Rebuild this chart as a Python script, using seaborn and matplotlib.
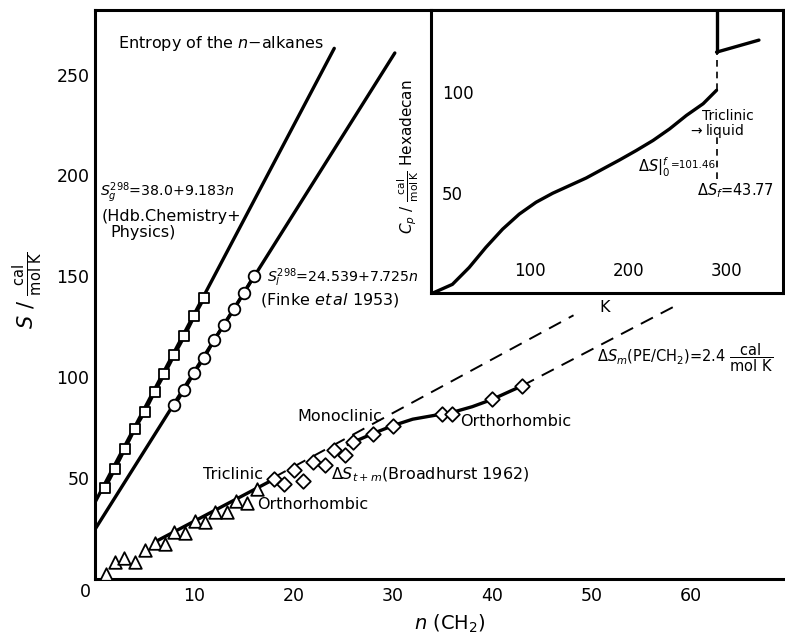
import matplotlib
matplotlib.use("Agg")
import matplotlib.pyplot as plt
import seaborn as sns
import pandas as pd

# ---------------- data ----------------
gas_n = [1, 2, 3, 4, 5, 6, 7, 8, 9, 10, 11]
gas_S = [45.0, 54.5, 64.4, 74.3, 82.8, 92.7, 101.6, 111.2, 120.3, 130.3, 139.3]
gas_fit_n = [0, 24.1]
gas_fit_S = [38.0, 263.0]

liq_n = [8, 9, 10, 11, 12, 13, 14, 15, 16]
liq_S = [86.1, 93.9, 102.3, 109.7, 118.5, 126.1, 133.7, 141.9, 150.1]
liq_fit_n = [0, 30.2]
liq_fit_S = [24.6, 260.7]

tri_n = [1.1, 2.0, 2.95, 4.0, 5.0, 6.0, 7.05, 8.0, 9.1, 10.1, 11.1, 12.1, 13.3, 14.2, 15.3, 16.3]
tri_S = [2.4, 8.6, 10.5, 8.2, 14.4, 17.7, 17.2, 23.1, 22.6, 28.7, 28.4, 33.3, 33.0, 38.6, 37.8, 44.4]

dia_n = [18, 19, 20, 21, 22, 23.2, 24.1, 25.2, 26, 28, 30, 35, 36, 40, 43]
dia_S = [49.5, 47.0, 54.1, 48.8, 58.1, 56.4, 63.7, 61.4, 67.8, 72.1, 76.0, 82.0, 82.0, 89.0, 95.7]

trend1_n = [6.2, 18.0]
trend1_S = [18.8, 49.4]
trend2_n = [25.5, 26, 28, 30, 32, 35, 36, 38, 40, 43]
trend2_S = [66.6, 67.8, 72.1, 76.0, 79.2, 81.8, 82.6, 85.4, 89.0, 95.7]

mono_dash_n = [18.0, 48.2]
mono_dash_S = [50.3, 130.7]
pe_dash_n = [43.0, 58.9]
pe_dash_S = [95.7, 136.5]

main_xticks = [10, 20, 30, 40, 50, 60]
main_yticks = [50, 100, 150, 200, 250]

# inset: Cp of hexadecane
cp_T = [2, 21.7, 38.7, 55.6, 72.6, 89.5, 106.5, 123.4, 140.4, 157.4, 174.3,
        191.3, 208.2, 225.2, 242.1, 259.1, 276.0, 289.6]
cp_val = [0.0, 4.3, 12.7, 22.7, 31.8, 39.3, 45.2, 49.7, 53.5, 57.3, 61.8,
          66.3, 71.0, 76.0, 81.8, 88.5, 94.3, 101.0]
cp_liq_T = [289.6, 332.6]
cp_liq_val = [120.0, 126.0]
cp_peak_T = [289.6, 289.6]
cp_peak_val = [120.0, 141.0]
cp_dash_upper_T = [289.6, 289.6]
cp_dash_upper_val = [101.0, 120.0]
cp_dash_lower_T = [289.6, 289.6]
cp_dash_lower_val = [57.0, 79.0]
inset_xticks = [100, 200, 300]
inset_yticks = [50, 100]

# ---------------- style ----------------
sns.set_theme(style="white")
plt.rcParams["font.family"] = ["DejaVu Sans"]
plt.rcParams["mathtext.fontset"] = "dejavusans"
plt.rcParams["text.color"] = "black"
plt.rcParams["xtick.color"] = "black"
plt.rcParams["ytick.color"] = "black"

W, H = 785, 635
fig = plt.figure(figsize=(W / 100, H / 100), dpi=100)
fig.patch.set_facecolor("white")


def fx(px):
    return px / W


def fy(py):
    return 1 - py / H


ax = fig.add_axes([fx(95), fy(579), fx(783) - fx(95), fy(10) - fy(579)])
ax.set_facecolor("white")
ax.set_xlim(0, 69.3)
ax.set_ylim(0, 282)

LW = 2.4
DASH = (0, (7, 4.5))


def line(axis, x, y, **kw):
    sns.lineplot(x=x, y=y, ax=axis, color="black", sort=False,
                 estimator=None, legend=False, **kw)


line(ax, gas_fit_n, gas_fit_S, linewidth=LW)
line(ax, liq_fit_n, liq_fit_S, linewidth=LW)
line(ax, gas_n, gas_S, linewidth=LW)
line(ax, liq_n, liq_S, linewidth=LW)
line(ax, trend1_n, trend1_S, linewidth=LW)
line(ax, trend2_n, trend2_S, linewidth=LW)
line(ax, mono_dash_n, mono_dash_S, linewidth=1.4, linestyle=DASH)
line(ax, pe_dash_n, pe_dash_S, linewidth=1.4, linestyle=DASH)

mk = dict(facecolor="white", edgecolor="black", linewidth=1.3, zorder=5, legend=False)
sns.scatterplot(x=gas_n, y=gas_S, marker="s", s=62, ax=ax, **mk)
sns.scatterplot(x=liq_n, y=liq_S, marker="o", s=70, ax=ax, **mk)
sns.scatterplot(x=tri_n, y=tri_S, marker="^", s=82, ax=ax, **mk)
sns.scatterplot(x=dia_n, y=dia_S, marker="D", s=55, ax=ax, **mk)

ax.set_xticks(main_xticks)
ax.set_yticks(main_yticks)
ax.set_xticklabels([str(v) for v in main_xticks])
ax.set_yticklabels([str(v) for v in main_yticks])
ax.tick_params(direction="in", length=10, width=1.6, labelsize=12.5, pad=6,
               colors="black")
ax.tick_params(axis="y", pad=4)
for s in ["left", "bottom", "top"]:
    ax.spines[s].set_linewidth(2.2)
    ax.spines[s].set_color("black")
ax.spines["right"].set_visible(False)
ax.set_xlabel("")
ax.set_ylabel("")

fig.text(fx(85), fy(592), "0", fontsize=12.5, ha="center", va="center")
fig.text(fx(28), fy(290), r"$S\ /\ \frac{\mathrm{cal}}{\mathrm{mol\ K}}$", fontsize=15,
         rotation=90, ha="center", va="center")
fig.text(fx(450), fy(624), r"$n$ (CH$_2$)", fontsize=14, ha="center", va="center")


def tx(px):
    return (px - 95) / 9.93


def ty(py):
    return (579 - py) / 2.02


FS = 11.5
EQ = 10.2
ax.text(tx(118), ty(43), r"Entropy of the $n$$-$alkanes", fontsize=FS, va="center")
ax.text(tx(100), ty(192), r"$S_g^{298}$=38.0+9.183$n$", fontsize=EQ, va="center")
ax.text(tx(102), ty(216), "(Hdb.Chemistry+", fontsize=FS, va="center")
ax.text(tx(110), ty(232), "Physics)", fontsize=FS, va="center")
ax.text(tx(267), ty(277), r"$S_l^{298}$=24.539+7.725$n$", fontsize=EQ, va="center")
ax.text(tx(260), ty(300), r"(Finke $et\,al$ 1953)", fontsize=FS, va="center")
ax.text(tx(297), ty(416), "Monoclinic", fontsize=FS, va="center")
ax.text(tx(203), ty(474), "Triclinic", fontsize=FS, va="center")
ax.text(tx(257), ty(504), "Orthorhombic", fontsize=FS, va="center")
ax.text(tx(331), ty(475), r"$\Delta S_{t+m}$(Broadhurst 1962)", fontsize=FS, va="center")
ax.text(tx(460), ty(421), "Orthorhombic", fontsize=FS, va="center")
ax.text(tx(597), ty(357), r"$\Delta S_m$(PE/CH$_2$)=2.4 $\dfrac{\mathrm{cal}}{\mathrm{mol\ K}}$",
        fontsize=10.5, va="center")

# ---------------- inset ----------------
ins = fig.add_axes([fx(431), fy(293), fx(783) - fx(431), fy(10) - fy(293)])
ins.set_facecolor("white")
ins.set_xlim(0, 357)
ins.set_ylim(0, 141)
line(ins, cp_T, cp_val, linewidth=LW)
line(ins, cp_liq_T, cp_liq_val, linewidth=LW)
line(ins, cp_peak_T, cp_peak_val, linewidth=LW)
line(ins, cp_dash_upper_T, cp_dash_upper_val, linewidth=1.2, linestyle=(0, (4, 3)))
line(ins, cp_dash_lower_T, cp_dash_lower_val, linewidth=1.2, linestyle=(0, (4, 3)))
ins.set_xticks(inset_xticks)
ins.set_yticks(inset_yticks)
ins.set_xticklabels([str(v) for v in inset_xticks])
ins.set_yticklabels([str(v) for v in inset_yticks])
ins.tick_params(direction="in", length=11, width=1.6, labelsize=12, colors="black")
ins.tick_params(axis="x", pad=-9)
ins.tick_params(axis="y", pad=-8)
for t in ins.get_xticklabels():
    t.set_va("bottom")
for t in ins.get_yticklabels():
    t.set_ha("left")
for s in ins.spines.values():
    s.set_linewidth(2.2)
    s.set_color("black")
ins.set_xlabel("")
ins.set_ylabel("")


def ix(px):
    return (px - 432) / 0.983


def iy(py):
    return (292 - py) / 2.0


IFS = 10
ins.text(ix(702), iy(116), "Triclinic", fontsize=IFS, va="center")
ins.text(ix(688), iy(131), r"$\rightarrow$liquid", fontsize=IFS, va="center")
ins.text(ix(638), iy(167), r"$\Delta S|_0^f$", fontsize=10.5, va="center")
ins.text(ix(671), iy(164), "=101.46", fontsize=7.5, va="center")
ins.text(ix(697), iy(190), r"$\Delta S_f$=43.77", fontsize=10.5, va="center")

fig.text(fx(408), fy(157), r"$C_p\ /\ \frac{\mathrm{cal}}{\mathrm{mol\,K}}$ Hexadecan",
         fontsize=11, rotation=90, ha="center", va="center")
fig.text(fx(605), fy(307), "K", fontsize=11.5, ha="center", va="center")

fig.savefig("out.png", dpi=100, facecolor="white")
